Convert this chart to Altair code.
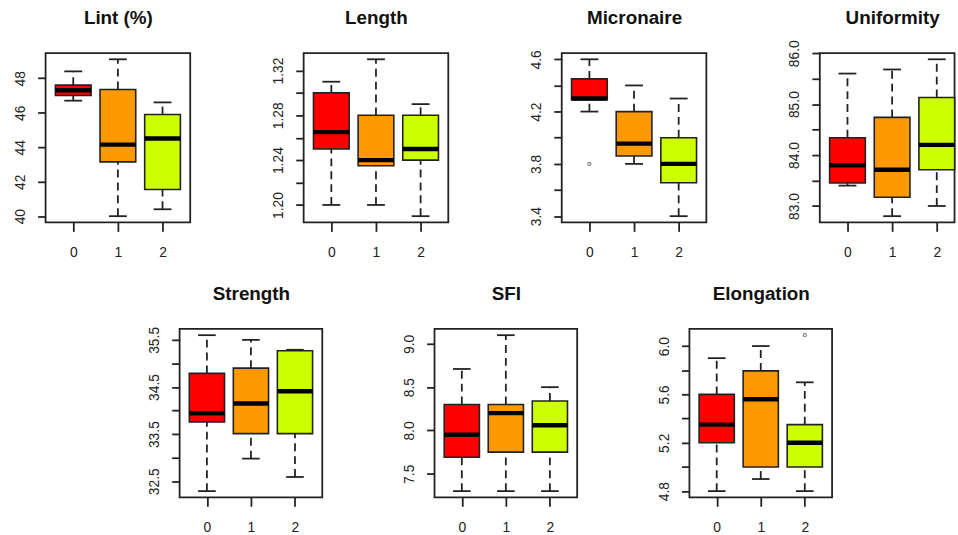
import altair as alt
import pandas as pd

groups = ["0", "1", "2"]
positions = [1, 2, 3]
colors = ["#FF0000", "#FF9900", "#CCFF00"]
FONT = "Liberation Sans"

# ---- Lint (%)
lint_low = [46.7, 40.0, 40.4]
lint_q1 = [47.0, 43.15, 41.55]
lint_med = [47.3, 44.15, 44.5]
lint_q3 = [47.6, 47.35, 45.9]
lint_high = [48.4, 49.1, 46.6]
lint_out_g, lint_out_v = [], []
lint_ticks = [40, 42, 44, 46, 48]
lint_labels = ["40", "42", "44", "46", "48"]

# ---- Length
len_low = [1.20, 1.20, 1.19]
len_q1 = [1.25, 1.235, 1.24]
len_med = [1.265, 1.24, 1.25]
len_q3 = [1.30, 1.28, 1.28]
len_high = [1.31, 1.33, 1.29]
len_out_g, len_out_v = [], []
len_ticks = [1.20, 1.22, 1.24, 1.26, 1.28, 1.30, 1.32]
len_labels = ["1.20", "1.24", "1.28", "1.32"]

# ---- Micronaire
mic_low = [4.2, 3.8, 3.4]
mic_q1 = [4.29, 3.86, 3.655]
mic_med = [4.30, 3.955, 3.80]
mic_q3 = [4.45, 4.20, 4.00]
mic_high = [4.6, 4.4, 4.3]
mic_out_g, mic_out_v = [1], [3.8]
mic_ticks = [3.4, 3.6, 3.8, 4.0, 4.2, 4.4, 4.6]
mic_labels = ["3.4", "3.8", "4.2", "4.6"]

# ---- Uniformity
uni_low = [83.4, 82.8, 83.0]
uni_q1 = [83.45, 83.17, 83.71]
uni_med = [83.8, 83.71, 84.2]
uni_q3 = [84.34, 84.74, 85.13]
uni_high = [85.6, 85.68, 85.88]
uni_out_g, uni_out_v = [], []
uni_ticks = [83.0, 83.5, 84.0, 84.5, 85.0, 85.5, 86.0]
uni_labels = ["83.0", "84.0", "85.0", "86.0"]

# ---- Strength
str_low = [32.29, 32.98, 32.59]
str_q1 = [33.76, 33.51, 33.51]
str_med = [33.94, 34.15, 34.41]
str_q3 = [34.79, 34.9, 35.27]
str_high = [35.6, 35.5, 35.29]
str_out_g, str_out_v = [], []
str_ticks = [32.5, 33.0, 33.5, 34.0, 34.5, 35.0, 35.5]
str_labels = ["32.5", "33.5", "34.5", "35.5"]

# ---- SFI
sfi_low = [7.3, 7.3, 7.3]
sfi_q1 = [7.69, 7.75, 7.75]
sfi_med = [7.95, 8.2, 8.06]
sfi_q3 = [8.3, 8.3, 8.34]
sfi_high = [8.71, 9.1, 8.5]
sfi_out_g, sfi_out_v = [], []
sfi_ticks = [7.5, 8.0, 8.5, 9.0]
sfi_labels = ["7.5", "8.0", "8.5", "9.0"]

# ---- Elongation
elo_low = [4.8, 4.9, 4.8]
elo_q1 = [5.2, 5.0, 5.0]
elo_med = [5.35, 5.56, 5.2]
elo_q3 = [5.6, 5.795, 5.35]
elo_high = [5.9, 6.0, 5.7]
elo_out_g, elo_out_v = [3], [6.09]
elo_ticks = [4.8, 5.0, 5.2, 5.4, 5.6, 5.8, 6.0]
elo_labels = ["4.8", "5.2", "5.6", "6.0"]

INK = "#222222"
XMIN, XSPAN = 0.38, 3.24


def panel(title, low, q1, med, q3, high, out_g, out_v, ticks, labels, fmt, w, h, full_w=None):
    df = pd.DataFrame({"group": groups, "pos": positions, "low": low, "q1": q1,
                       "med": med, "q3": q3, "high": high, "color": colors})
    allv = list(low) + list(high) + list(out_v)
    lo, hi = min(allv), max(allv)
    ext = (hi - lo) * 0.04
    ydom = [lo - ext, hi + ext]
    lab_list = "[" + ",".join("'%s'" % s for s in labels) + "]"
    label_expr = ("indexof(%s, format(datum.value, '%s')) >= 0 ? format(datum.value, '%s') : ''"
                  % (lab_list, fmt, fmt))
    grp_list = "[" + ",".join("'%s'" % g for g in groups) + "]"
    # a panel cut off by the picture's right edge keeps the same x scale ratio
    fw = full_w if full_w else w
    xmax = XMIN + XSPAN * w / fw

    xaxis = alt.Axis(values=positions, labelExpr=grp_list + "[datum.value - 1]", title=None,
                     grid=False, domain=False, tickSize=9, tickWidth=1.8, tickColor=INK,
                     labelFontSize=14, labelColor=INK, labelFont=FONT, labelPadding=14,
                     labelFlush=False, labelOverlap=False, minExtent=36, maxExtent=36)
    yaxis = alt.Axis(values=ticks, labelExpr=label_expr, grid=False, domain=False,
                     tickSize=8, tickWidth=1.8, tickColor=INK, labelFontSize=14,
                     labelColor=INK, labelFont=FONT, labelAngle=270, labelAlign="center",
                     labelBaseline="bottom", labelPadding=10, labelFlush=False,
                     labelOverlap=False, minExtent=40, maxExtent=40,
                     title=title, titleAngle=0, titleX=fw / 2, titleY=-29.5,
                     titleAlign="center", titleBaseline="alphabetic", titleFontSize=19,
                     titleFontWeight="bold", titleFont=FONT, titleColor="#111111")
    xs = alt.Scale(domain=[XMIN, xmax], nice=False, zero=False)
    ys = alt.Scale(domain=ydom, nice=False, zero=False)

    def X(f):
        return alt.X(f + ":Q", scale=xs, axis=xaxis)

    def Y(f):
        return alt.Y(f + ":Q", scale=ys, axis=yaxis)

    base = alt.Chart(df).transform_calculate(
        bl="datum.pos - 0.4", br="datum.pos + 0.4",
        sl="datum.pos - 0.2", sr="datum.pos + 0.2")

    wlo = base.mark_rule(color=INK, strokeWidth=1.8, strokeDash=[8, 5]).encode(
        x=X("pos"), y=Y("low"), y2="q1:Q")
    whi = base.mark_rule(color=INK, strokeWidth=1.8, strokeDash=[8, 5]).encode(
        x=X("pos"), y=Y("q3"), y2="high:Q")
    slo = base.mark_rule(color=INK, strokeWidth=1.8).encode(x=X("sl"), x2="sr:Q", y=Y("low"))
    shi = base.mark_rule(color=INK, strokeWidth=1.8).encode(x=X("sl"), x2="sr:Q", y=Y("high"))
    box = base.mark_bar(stroke=INK, strokeWidth=1.6).encode(
        x=X("bl"), x2="br:Q", y=Y("q1"), y2="q3:Q",
        color=alt.Color("color:N", scale=None))
    medl = base.mark_rule(color="#000000", strokeWidth=4.5).encode(
        x=X("bl"), x2="br:Q", y=Y("med"))
    layers = [wlo, whi, slo, shi, box, medl]
    if out_v:
        odf = pd.DataFrame({"pos": out_g, "val": out_v})
        pts = alt.Chart(odf).mark_point(shape="circle", filled=False, size=10,
                                        strokeWidth=1.2, color="#555555").encode(
            x=X("pos"), y=Y("val"))
        layers.append(pts)
    return alt.layer(*layers).properties(width=w, height=h)


W1, H1 = 146, 171
W2, H2 = 144, 170
W4 = 136

p1 = panel("Lint (%)", lint_low, lint_q1, lint_med, lint_q3, lint_high, lint_out_g, lint_out_v,
           lint_ticks, lint_labels, "d", W1, H1)
p2 = panel("Length", len_low, len_q1, len_med, len_q3, len_high, len_out_g, len_out_v,
           len_ticks, len_labels, ".2f", W1, H1)
p3 = panel("Micronaire", mic_low, mic_q1, mic_med, mic_q3, mic_high, mic_out_g, mic_out_v,
           mic_ticks, mic_labels, ".1f", W1, H1)
p4 = panel("Uniformity", uni_low, uni_q1, uni_med, uni_q3, uni_high, uni_out_g, uni_out_v,
           uni_ticks, uni_labels, ".1f", W4, H1, full_w=W1)
p5 = panel("Strength", str_low, str_q1, str_med, str_q3, str_high, str_out_g, str_out_v,
           str_ticks, str_labels, ".1f", W2, H2)
p6 = panel("SFI", sfi_low, sfi_q1, sfi_med, sfi_q3, sfi_high, sfi_out_g, sfi_out_v,
           sfi_ticks, sfi_labels, ".1f", W2, H2)
p7 = panel("Elongation", elo_low, elo_q1, elo_med, elo_q3, elo_high, elo_out_g, elo_out_v,
           elo_ticks, elo_labels, ".1f", W2, H2)

# invisible spacer that indents the second row
spacer = alt.Chart(pd.DataFrame({"s": [0]})).mark_point(opacity=0).encode(
    x=alt.X("s:Q", axis=None), y=alt.Y("s:Q", axis=None)
).properties(width=23, height=H2, view=alt.ViewBackground(strokeOpacity=0))

top = alt.hconcat(p1, p2, p3, p4, spacing=72.5)
bottom = alt.hconcat(spacer, p5, p6, p7, spacing=71.3)

chart = alt.vconcat(top, bottom, spacing=23.5).properties(
    padding={"left": 5, "top": 5, "right": 0, "bottom": 0},
    background="white",
).configure_view(stroke=INK, strokeWidth=1.8)

chart.save("out.html", embed_options={"renderer": "svg", "actions": False})
